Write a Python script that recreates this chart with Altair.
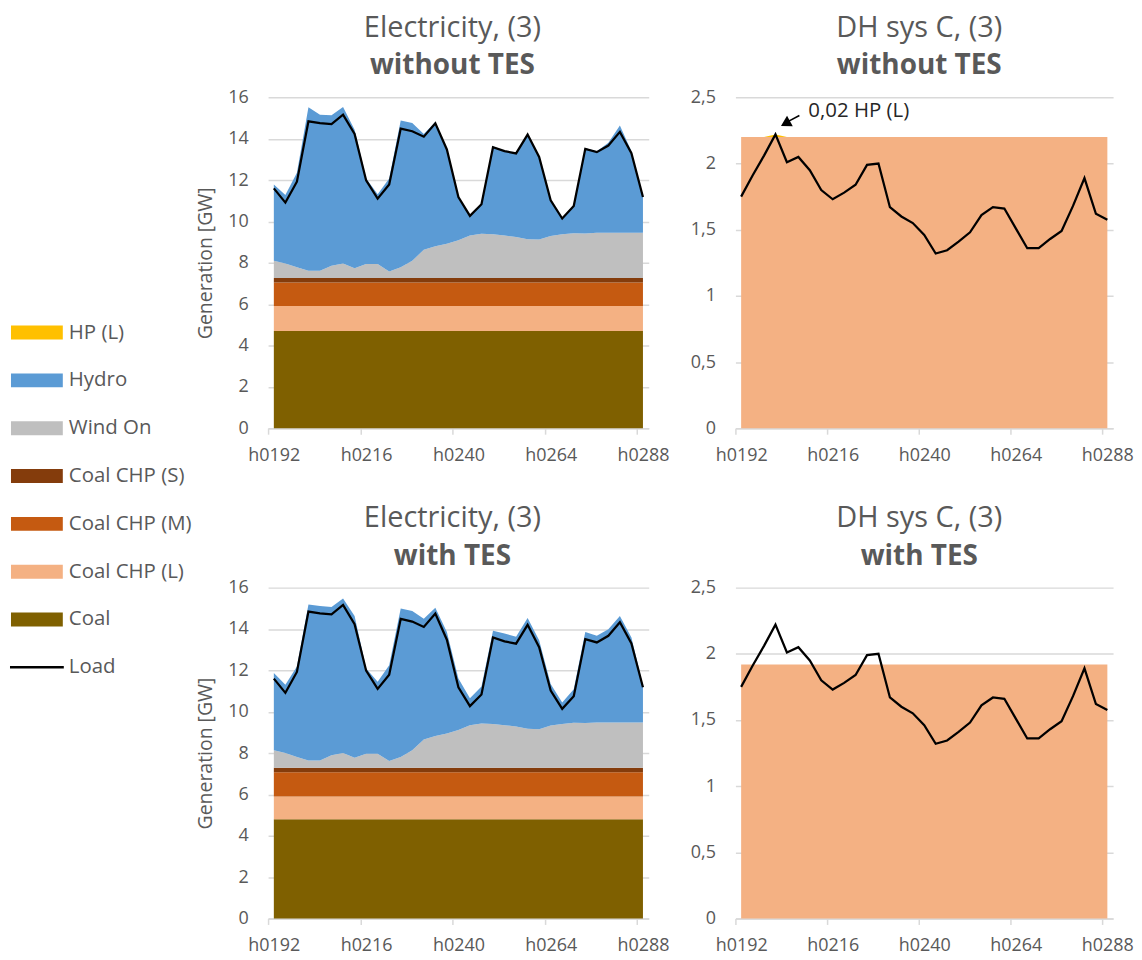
import altair as alt
import pandas as pd

FONT = "Open Sans"
TXT = "#595959"
GRID = "#D9D9D9"

# ---------------- data ----------------
hours = list(range(192, 289, 3))  # 33 three-hourly categories h0192 .. h0288

load = [11.60, 10.91, 11.92, 14.84, 14.75, 14.71, 15.16, 14.23, 11.99, 11.10, 11.79,
        14.49, 14.36, 14.10, 14.75, 13.48, 11.18, 10.27, 10.83, 13.59, 13.40, 13.29,
        14.20, 13.12, 11.02, 10.14, 10.75, 13.51, 13.35, 13.67, 14.33, 13.30, 11.18]

wind_on = [0.84, 0.71, 0.52, 0.35, 0.35, 0.60, 0.71, 0.48, 0.68, 0.68, 0.32,
           0.52, 0.84, 1.37, 1.54, 1.66, 1.83, 2.06, 2.14, 2.12, 2.06, 1.99,
           1.88, 1.86, 2.04, 2.12, 2.17, 2.16, 2.19, 2.19, 2.19, 2.19, 2.19]

hydro_without = [3.69, 3.31, 4.57, 7.91, 7.55, 7.27, 7.56, 6.70, 4.14, 3.37, 4.50,
                 7.10, 6.66, 5.60, 6.01, 4.58, 2.11, 0.98, 1.45, 4.24, 4.10, 4.06,
                 5.11, 4.03, 1.75, 0.78, 1.35, 4.12, 3.95, 4.35, 5.19, 3.95, 1.75]

hydro_with = [3.74, 3.30, 4.38, 7.55, 7.47, 7.17, 7.48, 6.86, 4.12, 3.48, 4.64,
              7.18, 6.74, 5.84, 6.20, 4.91, 2.49, 1.30, 1.79, 4.50, 4.43, 4.34,
              5.36, 4.31, 2.01, 1.04, 1.63, 4.41, 4.19, 4.51, 5.15, 4.11, 1.77]

# constant base-load levels (GW) per scenario
coal_without, chp_l_without, chp_m_without, chp_s_without = 4.70, 1.21, 1.14, 0.21
coal_with, chp_l_with, chp_m_with, chp_s_with = 4.80, 1.10, 1.17, 0.22

dh_load = [1.75, 1.91, 2.06, 2.22, 2.01, 2.05, 1.95, 1.80, 1.73, 1.78, 1.84,
           1.99, 2.00, 1.67, 1.60, 1.55, 1.46, 1.32, 1.345, 1.41, 1.48, 1.61,
           1.67, 1.66, 1.51, 1.36, 1.36, 1.43, 1.49, 1.68, 1.89, 1.62, 1.575]

dh_chp_l_without = 2.20
dh_chp_l_with = 1.92
hp_l_without = [0, 0, 0, 0.02, 0, 0, 0, 0, 0, 0, 0,
                0, 0, 0, 0, 0, 0, 0, 0, 0, 0, 0,
                0, 0, 0, 0, 0, 0, 0, 0, 0, 0, 0]
hp_l_with = [0] * 33

series_names = ["HP (L)", "Hydro", "Wind On", "Coal CHP (S)", "Coal CHP (M)", "Coal CHP (L)", "Coal"]
series_colors = ["#FFC000", "#5B9BD5", "#BFBFBF", "#843C0C", "#C55A11", "#F4B183", "#7F6000"]
stack_order = {"Coal": 0, "Coal CHP (L)": 1, "Coal CHP (M)": 2, "Coal CHP (S)": 3,
               "Wind On": 4, "Hydro": 5, "HP (L)": 6}

color_scale = alt.Scale(domain=series_names, range=series_colors)


def elec_frame(coal, chp_l, chp_m, chp_s, hydro):
    rows = []
    for i, h in enumerate(hours):
        vals = {"Coal": coal, "Coal CHP (L)": chp_l, "Coal CHP (M)": chp_m,
                "Coal CHP (S)": chp_s, "Wind On": wind_on[i], "Hydro": hydro[i]}
        for k, v in vals.items():
            rows.append({"hour": h, "series": k, "value": v, "ord": stack_order[k]})
    return pd.DataFrame(rows)


def dh_frame(chp_l, hp):
    rows = []
    for i, h in enumerate(hours):
        rows.append({"hour": h, "series": "Coal CHP (L)", "value": chp_l, "ord": 1})
        rows.append({"hour": h, "series": "HP (L)", "value": hp[i], "ord": 6})
    return pd.DataFrame(rows)


elec_load_df = pd.DataFrame({"hour": hours, "load": load})
dh_load_df = pd.DataFrame({"hour": hours, "load": dh_load})

W_LEG, W_L, W_R, H = 171, 382, 379, 332
COL_GAP, ROW_GAP = 87, 160


def x_axis(W):
    off = 1.5 * W / 99.0
    return alt.Axis(values=[192, 216, 240, 264, 288], labelExpr="'h0' + datum.value",
                    tickOffset=-off, labelOffset=off, grid=False, labelFlush=False,
                    domainColor=GRID, domainWidth=1.5, tickColor=GRID, tickWidth=1.5, tickSize=6,
                    labelFontSize=18, labelColor=TXT, labelFont=FONT, labelPadding=12, title=None)


def x_enc(W):
    return alt.X("hour:Q", scale=alt.Scale(domain=[190.5, 289.5], nice=False, zero=False), axis=x_axis(W))


def panel_title(t, s, dx):
    return alt.TitleParams(text=t, subtitle=s, fontSize=29, subtitleFontSize=28, font=FONT, subtitleFont=FONT,
                           fontWeight="normal", subtitleFontWeight="bold", color=TXT, subtitleColor=TXT,
                           anchor="middle", frame="group", dx=dx, offset=8, subtitlePadding=10)


def elec_panel(df, sub):
    yax = alt.Axis(values=list(range(0, 17, 2)), grid=True, gridColor=GRID, gridWidth=1.5, ticks=False,
                   domain=False, labelFontSize=18, labelColor=TXT, labelFont=FONT, labelPadding=20,
                   labelFlush=False, title="Generation [GW]", titleFontSize=19.5, titleFontWeight="normal",
                   titleColor=TXT, titleFont=FONT, titlePadding=12)
    area = alt.Chart(df).mark_area(interpolate="linear", opacity=1).encode(
        x=x_enc(W_L),
        y=alt.Y("value:Q", stack="zero", scale=alt.Scale(domain=[0, 16], nice=False), axis=yax),
        color=alt.Color("series:N", scale=color_scale, legend=None),
        order=alt.Order("ord:Q"),
    )
    line = alt.Chart(elec_load_df).mark_line(color="black", strokeWidth=2.25).encode(
        x="hour:Q", y="load:Q")
    return alt.layer(area, line).properties(width=W_L, height=H,
                                            title=panel_title("Electricity, (3)", sub, -6))


def dh_panel(df, sub, annotate):
    yax = alt.Axis(values=[0, 0.5, 1, 1.5, 2, 2.5], labelExpr="replace(toString(datum.value), '.', ',')",
                   grid=True, gridColor=GRID, gridWidth=1.5, ticks=False, domain=False, labelFontSize=18,
                   labelColor=TXT, labelFont=FONT, labelPadding=20, labelFlush=False, title=None)
    area = alt.Chart(df).mark_area(interpolate="linear", opacity=1).encode(
        x=x_enc(W_R),
        y=alt.Y("value:Q", stack="zero", scale=alt.Scale(domain=[0, 2.5], nice=False), axis=yax),
        color=alt.Color("series:N", scale=color_scale, legend=None),
        order=alt.Order("ord:Q"),
    )
    line = alt.Chart(dh_load_df).mark_line(color="black", strokeWidth=2.25).encode(
        x="hour:Q", y="load:Q")
    layers = [area, line]
    if annotate:
        ann = pd.DataFrame({"hour": [hours[3]], "value": [dh_load[3]], "label": ["0,02 HP (L)"]})
        base = alt.Chart(ann)
        shaft = base.mark_rule(color="black", strokeWidth=1.5, xOffset=24, yOffset=-19,
                               x2Offset=11, y2Offset=-12).encode(x="hour:Q", x2="hour:Q",
                                                                  y="value:Q", y2="value:Q")
        head = base.mark_point(shape="triangle-up", filled=True, color="black", size=140, angle=241,
                               opacity=1, xOffset=10, yOffset=-11).encode(x="hour:Q", y="value:Q")
        txt = base.mark_text(align="left", baseline="middle", dx=33, dy=-23, fontSize=20.5, font=FONT,
                             color="#262626").encode(x="hour:Q", y="value:Q", text="label:N")
        layers += [shaft, head, txt]
    return alt.layer(*layers).properties(width=W_R, height=H,
                                         title=panel_title("DH sys C, (3)", sub, -5))


tl = elec_panel(elec_frame(coal_without, chp_l_without, chp_m_without, chp_s_without, hydro_without), "without TES")
bl = elec_panel(elec_frame(coal_with, chp_l_with, chp_m_with, chp_s_with, hydro_with), "with TES")
tr = dh_panel(dh_frame(dh_chp_l_without, hp_l_without), "without TES", True)
br = dh_panel(dh_frame(dh_chp_l_with, hp_l_with), "with TES", False)

# ---------------- custom legend (items 48 px apart, first one 236 px below the top row) ----------------
leg_names = series_names + ["Load"]
leg_colors = series_colors + ["#000000"]
leg_df = pd.DataFrame({"name": leg_names, "col": leg_colors, "idx": list(range(len(leg_names)))})
STEP, FIRST = 48.0, 236.0
d0 = -FIRST / STEP
d1 = d0 + H / STEP
leg_y = alt.Y("idx:Q", axis=None, scale=alt.Scale(domain=[d0, d1], reverse=True, nice=False, zero=False))
leg_base = alt.Chart(leg_df)
leg_sw = leg_base.mark_tick(orient="horizontal", size=52, thickness=14, opacity=1).encode(
    y=leg_y, x=alt.value(26), color=alt.Color("col:N", scale=None)
).transform_filter(alt.datum.name != "Load")
leg_ln = leg_base.mark_tick(orient="horizontal", size=54, thickness=2.5, opacity=1).encode(
    y=leg_y, x=alt.value(26), color=alt.Color("col:N", scale=None)
).transform_filter(alt.datum.name == "Load")
leg_tx = leg_base.mark_text(align="left", baseline="middle", fontSize=20.5, font=FONT, color=TXT).encode(
    y=leg_y, x=alt.value(58), text="name:N")
legend = alt.layer(leg_sw, leg_ln, leg_tx).properties(width=W_LEG, height=H)

blank = alt.Chart(pd.DataFrame({"a": [0]})).mark_point(opacity=0).encode(
    x=alt.value(0), y=alt.value(0)).properties(width=W_LEG, height=H)

chart = alt.concat(legend, tl, tr, blank, bl, br, columns=3,
                   spacing={"row": ROW_GAP, "column": COL_GAP}, bounds="flush").properties(
    padding={"left": 0, "top": 4, "right": 0, "bottom": 2}, background="white"
).resolve_scale(color="independent").configure_view(strokeWidth=0)

chart.save("out.html", embed_options={"renderer": "svg", "actions": False})
